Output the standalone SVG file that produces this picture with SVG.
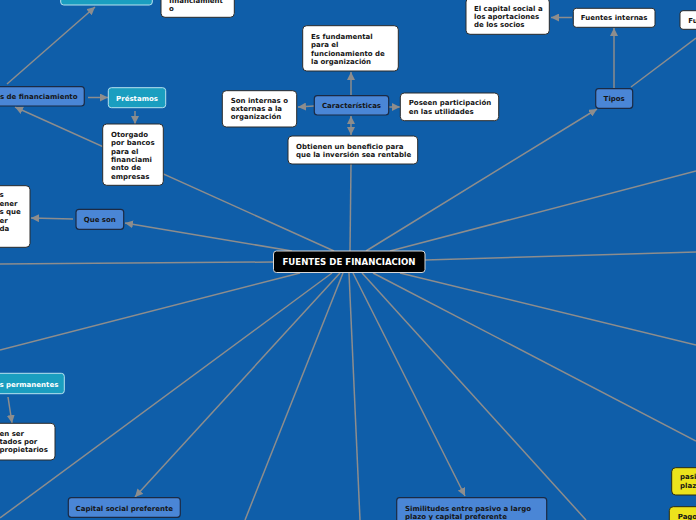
<svg xmlns="http://www.w3.org/2000/svg" width="696" height="520" viewBox="0 0 696 520">
<style>
.bg{fill:#0f5ea9}
.c{stroke:#8d8d8d;stroke-width:1.5;fill:none}
.a{marker-end:url(#ah)}
.w{fill:#ffffff;stroke:#2a2a2a;stroke-width:1}
.b{fill:#4a86d6;stroke:#1b2a44;stroke-width:1.2}
.cy{fill:#1a9ec0;stroke:#b8e2ef;stroke-width:1}
.y{fill:#ece31c;stroke:#2a2a10;stroke-width:1}
text{font-family:"DejaVu Sans","Liberation Sans",sans-serif;font-weight:bold;font-size:7px;fill:#151515}
.wt{fill:#ffffff}
.mid{text-anchor:middle}
</style>
<defs>
<marker id="ah" viewBox="0 0 8 8" refX="8" refY="4" markerWidth="8" markerHeight="8" markerUnits="userSpaceOnUse" orient="auto-start-reverse">
<path d="M0,0 L8,4 L0,8 z" fill="#8d8d8d"/>
</marker>
</defs>
<rect class="bg" x="0" y="0" width="696" height="520"/>
<g id="connectors">
<line class="c" x1="350" y1="251" x2="351" y2="164"/>
<line class="c a" x1="366" y1="251" x2="597" y2="109"/>
<line class="c" x1="390" y1="251" x2="696" y2="171"/>
<line class="c" x1="425" y1="260" x2="696" y2="252"/>
<line class="c" x1="400" y1="273" x2="696" y2="345"/>
<line class="c" x1="373" y1="273" x2="696" y2="441"/>
<line class="c" x1="362" y1="273" x2="586" y2="520"/>
<line class="c a" x1="353" y1="273" x2="465" y2="496"/>
<line class="c" x1="349" y1="273" x2="360" y2="520"/>
<line class="c" x1="343" y1="273" x2="245" y2="520"/>
<line class="c a" x1="340" y1="273" x2="135" y2="497"/>
<line class="c" x1="332" y1="273" x2="0" y2="518"/>
<line class="c" x1="300" y1="273" x2="0" y2="350"/>
<line class="c" x1="273" y1="262" x2="0" y2="264"/>
<line class="c a" x1="292" y1="251" x2="125" y2="223"/>
<line class="c a" x1="334" y1="251" x2="15" y2="107"/>
<line class="c a" x1="351" y1="95" x2="351" y2="72"/>
<line class="c a" x1="314" y1="106" x2="298" y2="107"/>
<line class="c a" x1="389" y1="107" x2="400" y2="107"/>
<line class="c a" x1="351" y1="116" x2="351" y2="135" style="marker-start:url(#ah)"/>
<line class="c a" x1="614" y1="88" x2="614" y2="28"/>
<line class="c a" x1="572" y1="17.5" x2="551" y2="17.5"/>
<line class="c" x1="631" y1="87" x2="696" y2="38"/>
<line class="c a" x1="7" y1="84" x2="95" y2="7"/>
<line class="c a" x1="88" y1="97.5" x2="108" y2="97.5"/>
<line class="c a" x1="135" y1="111" x2="135" y2="124"/>
<line class="c a" x1="73" y1="219" x2="31" y2="218"/>
<line class="c a" x1="8" y1="397" x2="12" y2="423"/>
</g>
<g id="center">
<rect x="273.5" y="251" width="151.5" height="21.5" rx="3" fill="#000" stroke="#d8d8d8" stroke-width="1"/>
<text class="wt mid" x="349" y="264.6" style="font-size:8.6px">FUENTES DE FINANCIACION</text>
</g>
<g id="caracteristicas">
<rect class="b" x="314.3" y="95.7" width="74.4" height="19.3" rx="3"/>
<text class="mid" x="351.5" y="107.8">Características</text>
</g>
<g id="es-fundamental">
<rect class="w" x="302.7" y="25.7" width="95.6" height="45.3" rx="4"/>
<text x="311" y="38.5">Es fundamental</text>
<text x="311" y="47">para el</text>
<text x="311" y="55.5">funcionamiento de</text>
<text x="311" y="64">la organización</text>
</g>
<g id="son-internas">
<rect class="w" x="222.3" y="90.7" width="74.4" height="36.3" rx="4"/>
<text x="230.7" y="102.7">Son internas o</text>
<text x="230.7" y="111">externas a la</text>
<text x="230.7" y="119.3">organización</text>
</g>
<g id="poseen">
<rect class="w" x="400.3" y="93" width="98.4" height="27.7" rx="4"/>
<text x="408.7" y="105.3">Poseen participación</text>
<text x="408.7" y="113.5">en las utilidades</text>
</g>
<g id="obtienen">
<rect class="w" x="288" y="136" width="129.7" height="28" rx="4"/>
<text x="296" y="148.7">Obtienen un beneficio para</text>
<text x="296" y="156.8">que la inversión sea rentable</text>
</g>
<g id="tipos">
<rect class="b" x="595.7" y="88.7" width="37" height="19.6" rx="3"/>
<text class="mid" x="614.2" y="100.8">Tipos</text>
</g>
<g id="fuentes-internas">
<rect class="w" x="573.3" y="8.3" width="81.7" height="19" rx="3"/>
<text class="mid" x="614.2" y="20.3">Fuentes internas</text>
</g>
<g id="capital-social">
<rect class="w" x="466" y="-2" width="83.3" height="36.3" rx="4"/>
<text x="474" y="10.7">El capital social a</text>
<text x="474" y="19">los aportaciones</text>
<text x="474" y="27.3">de los socios</text>
</g>
<g id="fuentes-externas">
<rect class="w" x="680" y="10.7" width="30" height="18.6" rx="3"/>
<text x="688.3" y="22.5">Fu</text>
</g>
<g id="tipos-financiamiento">
<rect class="b" x="-20" y="86.7" width="104.3" height="19.3" rx="3"/>
<text x="0" y="99">s de financiamiento</text>
</g>
<g id="top-cyan">
<rect class="cy" x="60.7" y="-20" width="91.6" height="25" rx="3"/>
</g>
<g id="top-white">
<rect class="w" x="161" y="-30" width="73.3" height="47.3" rx="4"/>
<text x="169" y="2.6">financiamient</text>
<text x="169" y="11">o</text>
</g>
<g id="prestamos">
<rect class="cy" x="108.3" y="87.7" width="57.4" height="20" rx="3"/>
<text class="wt mid" x="137" y="100.5">Préstamos</text>
</g>
<g id="otorgado">
<rect class="w" x="102.7" y="124" width="60.6" height="61.3" rx="4"/>
<text x="111" y="136.7">Otorgado</text>
<text x="111" y="145.1">por bancos</text>
<text x="111" y="153.5">para el</text>
<text x="111" y="161.9">financiami</text>
<text x="111" y="170.3">ento de</text>
<text x="111" y="178.7">empresas</text>
</g>
<g id="que-son">
<rect class="b" x="76" y="209.3" width="47.7" height="20" rx="3"/>
<text class="mid" x="99.8" y="222">Que son</text>
</g>
<g id="que-son-def">
<rect class="w" x="-20" y="185.7" width="50" height="61.6" rx="4"/>
<text x="-0.5" y="197.3">s</text>
<text x="-0.5" y="205.7">ener</text>
<text x="-0.5" y="214.2">s que</text>
<text x="-0.5" y="222.7">er</text>
<text x="-0.5" y="231.2">da</text>
</g>
<g id="permanentes">
<rect class="cy" x="-20" y="373.3" width="84.3" height="20.4" rx="3"/>
<text class="wt" x="-0.5" y="386.7">s permanentes</text>
</g>
<g id="permanentes-def">
<rect class="w" x="-20" y="423.3" width="75" height="36.7" rx="4"/>
<text x="-0.5" y="435.7">en ser</text>
<text x="-0.5" y="444">tados por</text>
<text x="-0.5" y="452.3">propietarios</text>
</g>
<g id="capital-preferente">
<rect class="b" x="68.3" y="497.7" width="112" height="19.6" rx="3"/>
<text class="mid" x="124.3" y="510.5">Capital social preferente</text>
</g>
<g id="similitudes">
<rect class="b" x="396.7" y="497.7" width="150" height="40" rx="3"/>
<text x="405" y="510.7">Similitudes entre pasivo a largo</text>
<text x="405" y="518.5">plazo y capital preferente</text>
</g>
<g id="pasivo">
<rect class="y" x="671.7" y="467.7" width="40" height="27.3" rx="4"/>
<text x="680" y="479.3">pasi</text>
<text x="680" y="488.3">plaz</text>
</g>
<g id="pago">
<rect class="y" x="669.3" y="506.7" width="40" height="25" rx="4"/>
<text x="677.7" y="519.3">Pago</text>
</g>
</svg>
